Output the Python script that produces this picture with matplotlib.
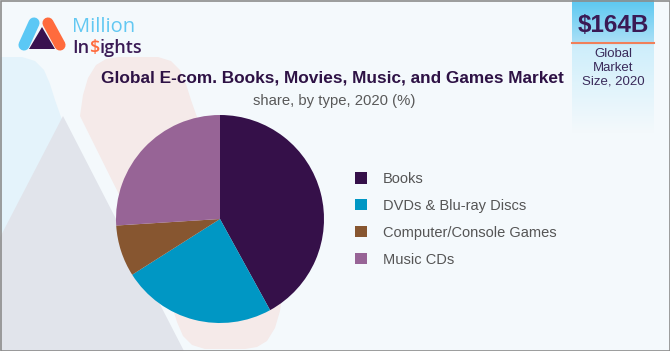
import numpy as np
import matplotlib.pyplot as plt
from matplotlib.patches import Polygon, Rectangle
from matplotlib.colors import to_rgb

plt.rcParams['font.family'] = ['Liberation Sans', 'DejaVu Sans']

BACKGROUND = "#F4F9FC"
TITLE_COLOR = "#2E1245"
SUB_COLOR = "#595959"
LEGEND_TEXT = "#555555"

categories = ["Books", "DVDs & Blu-ray Discs", "Computer/Console Games", "Music CDs"]
shares = [42, 24, 8, 26]
colors = ["#351049", "#0097C4", "#875630", "#976496"]

title = "Global E-com. Books, Movies, Music, and Games Market"
subtitle = "share, by type, 2020 (%)"
market_size = "$164B"
market_label = "Global\nMarket\nSize, 2020"

fig = plt.figure(figsize=(6.7, 3.51), dpi=100)
fig.patch.set_facecolor(BACKGROUND)

# background layer in pixel coordinates (y down)
bg = fig.add_axes([0, 0, 1, 1])
bg.set_xlim(0, 670)
bg.set_ylim(351, 0)
bg.set_axis_off()

# decorative slanted bands: top cap outline, bottom cap is the point reflection
cap = np.array([(80, 116), (83, 95), (88, 78), (96, 65), (106, 59), (118, 57),
                (158, 57), (171, 61), (180, 70), (186, 84), (191, 100), (197, 117)], float)
centre = np.array([181.5, 203.0])
outline = np.vstack([cap, 2 * centre - cap])


def band(dx, color):
    bg.add_patch(Polygon(outline + [dx, 0], closed=True, fc=color, ec="none", zorder=1))


band(-136, "#E4F3FB")
band(0, "#F5EAE9")
bg.add_patch(Polygon([(63, 116), (-60, 353), (185, 353)], closed=True,
                     fc="#E1E4EB", ec="none", zorder=2))

# market size box with gradient
stops_y = [0, 41, 45, 90, 133]
stops_c = ["#5BC8F1", "#A8DFF6", "#CDEEFB", "#E2F4FB", BACKGROUND]
ys = np.linspace(0, 133, 200)
grad = np.stack([np.interp(ys, stops_y, [to_rgb(c)[i] for c in stops_c]) for i in range(3)], axis=-1)
bg.imshow(grad[:, None, :], extent=[572, 654, 133, 0], aspect="auto", zorder=3, interpolation="bilinear")
bg.set_xlim(0, 670)
bg.set_ylim(351, 0)
bg.plot([572, 654], [43, 43], color="#F0805A", lw=1.5, zorder=4)
bg.text(613, 26, market_size, ha="center", va="center", fontsize=17.5,
        fontweight="bold", color="#3A1A55", zorder=5)
bg.text(613, 68, market_label, ha="center", va="center", fontsize=9.5,
        color="#3A2A5A", linespacing=1.22, zorder=5)

# logo
bg.plot([24, 34], [45, 23], color="#5BC8F5", lw=8, solid_capstyle="round", zorder=5)
bg.plot([48, 60], [23, 45], color="#FF6B3D", lw=8, solid_capstyle="round", zorder=5)
bg.add_patch(Polygon([(42, 27), (29, 49), (55, 49)], closed=True, fc="#3A1250", ec="none", zorder=6))
bg.text(72, 32, "Million", ha="left", va="baseline", fontsize=14.5,
        color="#62C8F2", family="Open Sans", zorder=5)
t1 = bg.text(72, 53, "In", ha="left", va="baseline", fontsize=13, color="#3A1A55",
             family="Open Sans", fontweight="semibold", zorder=5)
t2 = bg.annotate("$", xy=(1, 0), xycoords=t1, ha="left", va="bottom", fontsize=13,
                 color="#FF6B3D", family="Open Sans", fontweight="semibold", zorder=5)
bg.annotate("ights", xy=(1, 0), xycoords=t2, ha="left", va="bottom", fontsize=13,
            color="#3A1A55", family="Open Sans", fontweight="semibold", zorder=5)

# titles
bg.text(332, 78, title, ha="center", va="center", fontsize=12.4, fontweight="bold",
        color=TITLE_COLOR, zorder=5)
bg.text(334, 101, subtitle, ha="center", va="center", fontsize=10.7, color=SUB_COLOR, zorder=5)

# border
bg.add_patch(Rectangle((0.5, 0.5), 669, 350, fill=False, ec="#8C8C8C", lw=1.2, zorder=10))

# pie
cx, cy, r = 220, 219, 104
ax = fig.add_axes([(cx - r) / 670, (351 - cy - r) / 351, 2 * r / 670, 2 * r / 351])
wedges, _ = ax.pie(shares, colors=colors, startangle=90, counterclock=False,
                   wedgeprops=dict(linewidth=0))
ax.set_xlim(-1, 1)
ax.set_ylim(-1, 1)
ax.set_axis_off()

leg = ax.legend(wedges, categories, loc="upper left", bbox_to_anchor=(355 / 670, 1 - 172 / 351),
                bbox_transform=fig.transFigure, frameon=False, fontsize=10.5,
                handlelength=0.8, handleheight=0.8, handletextpad=1.1,
                labelspacing=0.89, borderpad=0, borderaxespad=0)
for t in leg.get_texts():
    t.set_color(LEGEND_TEXT)

fig.savefig("out.png", dpi=100, facecolor=BACKGROUND)
